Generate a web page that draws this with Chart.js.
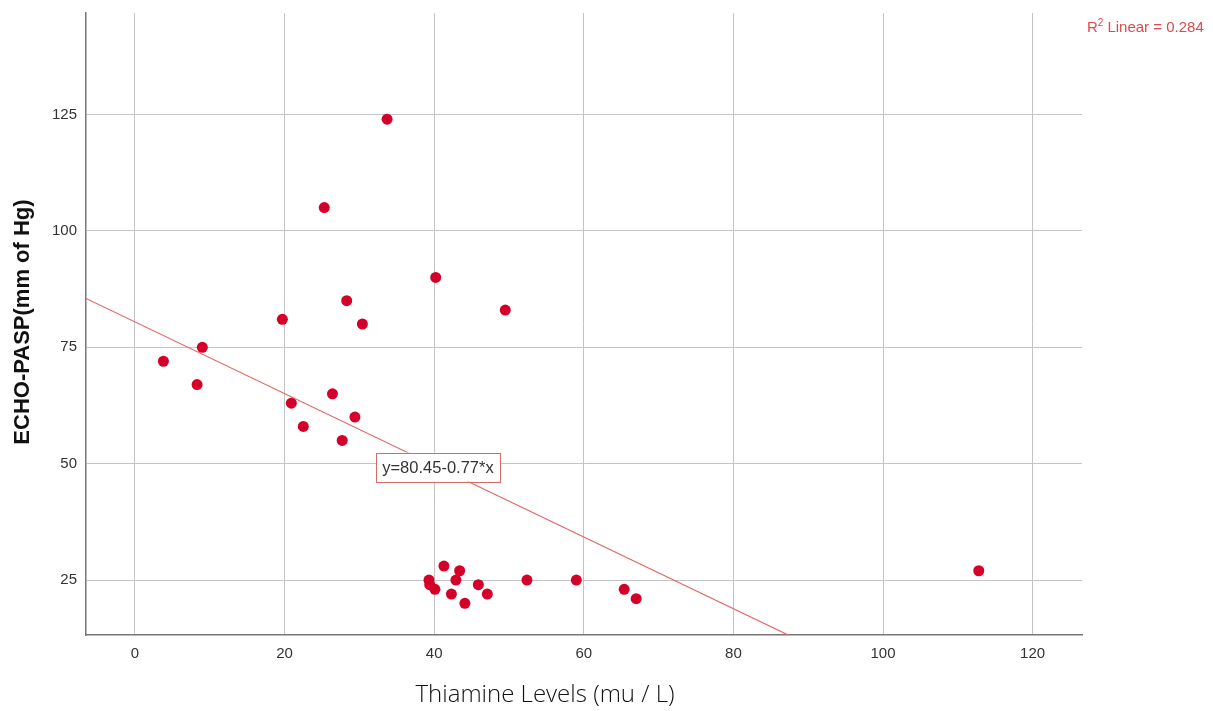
<!DOCTYPE html>
<html>
<head>
<meta charset="utf-8">
<script src="https://cdn.jsdelivr.net/npm/chart.js@4/dist/chart.umd.min.js"></script>
<style>
html,body{margin:0;padding:0;background:#fff;}
canvas{display:block;}
</style>
</head>
<body>
<canvas id="c" width="1213" height="711"></canvas>
<script>
// Data
const thiamine = [33.7, 25.3, 40.2, 28.3, 49.5, 19.7, 30.4, 3.8, 9.0, 8.3, 26.4, 20.9, 29.4, 22.5, 27.7,
                  41.3, 43.4, 39.3, 39.4, 40.1, 42.9, 42.3, 45.9, 47.1, 44.1, 52.4, 59.0, 65.4, 67.0, 112.8];
const pasp     = [124, 105, 90, 85, 83, 81, 80, 72, 75, 67, 65, 63, 60, 58, 55,
                  28, 27, 25, 24, 23, 25, 22, 24, 22, 20, 25, 25, 23, 21, 27];
const xTicks = [0, 20, 40, 60, 80, 100, 120];
const yTicks = [25, 50, 75, 100, 125];
const fitIntercept = 80.45;
const fitSlope = -0.77;
const rSquared = 0.284;
const xTitle = 'Thiamine Levels (mu / L)';
const yTitle = 'ECHO-PASP(mm of Hg)';
const eqLabel = 'y=80.45-0.77*x';

const X_MIN = -6.55, X_MAX = 126.6, Y_MIN = 13.2, Y_MAX = 146.8;

const points = thiamine.map((x, i) => ({x: x, y: pasp[i]}));
const xEnd = (Y_MIN - fitIntercept) / fitSlope;
const fitLine = [
  {x: X_MIN, y: fitIntercept + fitSlope * X_MIN},
  {x: xEnd, y: fitIntercept + fitSlope * xEnd}
];

const extras = {
  id: 'extras',
  afterDatasetsDraw(chart) {
    const ctx = chart.ctx;
    const xs = chart.scales.x, ys = chart.scales.y;
    // equation box
    const ex = 40.5, ey = fitIntercept + fitSlope * ex;
    const cx = xs.getPixelForValue(ex), cy = ys.getPixelForValue(ey);
    ctx.save();
    const w = 124, h = 29;
    ctx.fillStyle = '#ffffff';
    ctx.fillRect(cx - w/2, cy - h/2, w, h);
    ctx.strokeStyle = '#d96a6a';
    ctx.lineWidth = 1;
    ctx.strokeRect(Math.round(cx - w/2) + 0.5, Math.round(cy - h/2) + 0.5, w, h);
    ctx.font = '16.5px "Liberation Sans", Arial, sans-serif';
    ctx.fillStyle = '#333333';
    ctx.textAlign = 'center';
    ctx.textBaseline = 'middle';
    ctx.fillText(eqLabel, cx, cy + 1);
    ctx.restore();
  },
  afterDraw(chart) {
    const ctx = chart.ctx;
    ctx.save();
    // y title
    ctx.font = 'bold 22px "Liberation Sans", Arial, sans-serif';
    ctx.fillStyle = '#111';
    ctx.textAlign = 'center';
    ctx.textBaseline = 'middle';
    ctx.translate(23, 322);
    ctx.rotate(-Math.PI / 2);
    ctx.fillText(yTitle, 0, 0);
    ctx.restore();
    // x title
    ctx.save();
    ctx.font = '300 24px "Open Sans", "Lato", sans-serif';
    ctx.fillStyle = '#111';
    ctx.textAlign = 'center';
    ctx.textBaseline = 'alphabetic';
    ctx.fillText(xTitle, 545, 702);
    ctx.restore();
    // R2 label
    ctx.save();
    ctx.fillStyle = '#dc4a4f';
    ctx.textBaseline = 'alphabetic';
    ctx.textAlign = 'left';
    let x0 = 1087, y0 = 32;
    ctx.font = '15px "Liberation Sans", Arial, sans-serif';
    ctx.fillText('R', x0, y0);
    x0 += ctx.measureText('R').width;
    ctx.font = '10px "Liberation Sans", Arial, sans-serif';
    ctx.fillText('2', x0, y0 - 6);
    x0 += ctx.measureText('2').width + 4;
    ctx.font = '15px "Liberation Sans", Arial, sans-serif';
    ctx.fillText('Linear = ' + rSquared.toFixed(3), x0, y0);
    ctx.restore();
  }
};

new Chart(document.getElementById('c'), {
  type: 'scatter',
  data: {
    datasets: [
      {
        label: 'PASP',
        data: points,
        backgroundColor: '#d4002a',
        borderColor: '#d4002a',
        borderWidth: 0,
        pointRadius: 5.5,
        pointHoverRadius: 5.5,
        order: 0
      },
      {
        label: 'Fit',
        type: 'line',
        data: fitLine,
        borderColor: '#e06666',
        borderWidth: 1.2,
        pointRadius: 0,
        fill: false,
        order: 1
      }
    ]
  },
  plugins: [extras],
  options: {
    responsive: false,
    animation: false,
    events: [],
    layout: {padding: {left: 0, top: 13, right: 131, bottom: 0}},
    plugins: {legend: {display: false}, tooltip: {enabled: false}},
    scales: {
      x: {
        type: 'linear',
        min: X_MIN, max: X_MAX,
        afterBuildTicks: (s) => { s.ticks = xTicks.map(v => ({value: v})); },
        afterFit: (s) => { s.height = 76; s.paddingLeft = 0; s.paddingRight = 0; },
        grid: {color: '#c4c4c4', lineWidth: 1, drawTicks: false},
        border: {color: '#777', width: 1.5},
        ticks: {color: '#333', padding: 10, font: {family: '"Liberation Sans", Arial, sans-serif', size: 15}, maxRotation: 0}
      },
      y: {
        type: 'linear',
        min: Y_MIN, max: Y_MAX,
        afterBuildTicks: (s) => { s.ticks = yTicks.map(v => ({value: v})); },
        afterFit: (s) => { s.width = 86; s.paddingTop = 0; s.paddingBottom = 0; },
        grid: {color: '#c4c4c4', lineWidth: 1, drawTicks: false},
        border: {color: '#777', width: 1.5},
        ticks: {color: '#333', padding: 9, font: {family: '"Liberation Sans", Arial, sans-serif', size: 15}}
      }
    }
  }
});
</script>
</body>
</html>
